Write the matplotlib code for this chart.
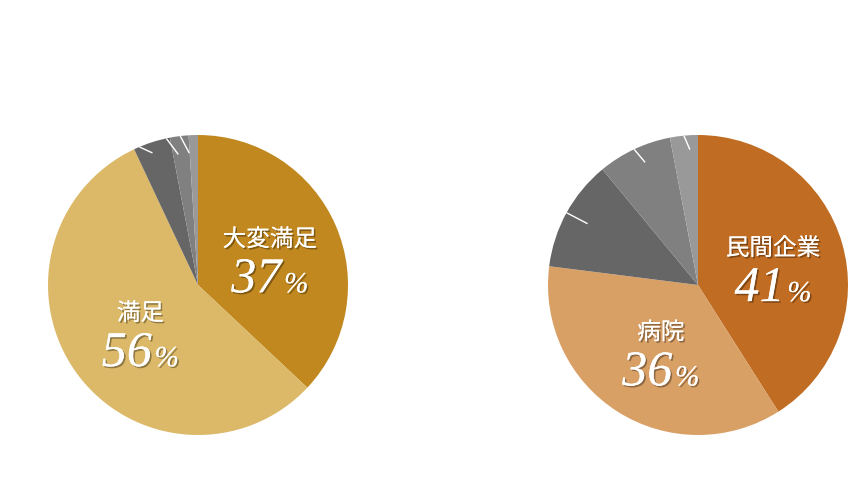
import numpy as np
import matplotlib
matplotlib.use('Agg')
import matplotlib.pyplot as plt
import matplotlib.patheffects as pe
from matplotlib.offsetbox import TextArea, HPacker, VPacker, AnnotationBbox

plt.rcParams['font.family'] = ['Noto Sans CJK JP', 'DejaVu Sans']

# left pie: satisfaction
satisfaction_labels = ['大変満足', '満足', '', '', '']
satisfaction_values = [37, 56, 4, 2, 1]
satisfaction_colors = ['#c1881f', '#dbb968', '#666666', '#808080', '#999999']

# right pie: employer
employer_labels = ['民間企業', '病院', '', '', '']
employer_values = [41, 36, 12, 8, 3]
employer_colors = ['#c06c22', '#d9a066', '#666666', '#808080', '#999999']

# leader line tails for the unlabeled slices (offset from rim point, in radius units)
left_leaders = [(0.087, -0.04), (0.08, -0.107), (0.06, -0.113)]
right_leaders = [(0.14, -0.073), (0.073, -0.087), (0.04, -0.093)]

shadow = [pe.withSimplePatchShadow(offset=(1.2, -1.2), shadow_rgbFace='black', alpha=0.35),
          pe.Normal()]


def draw_pie(ax, values, labels, colors, leaders, line_shift=0.0):
    ax.pie(values, colors=colors, startangle=90, counterclock=False, radius=1,
           wedgeprops=dict(linewidth=0))
    ax.set_xlim(-1, 1)
    ax.set_ylim(-1, 1)
    ax.set_aspect('equal')
    ax.axis('off')

    total = float(sum(values))
    cum = 0.0
    k = 0
    for v, lab in zip(values, labels):
        mid = np.deg2rad(90 - 360 * (cum + v / 2) / total)
        cum += v
        if lab:
            name = TextArea(lab, textprops=dict(color='white', fontsize=17, path_effects=shadow))
            num = TextArea(str(v), textprops=dict(color='white', fontsize=36, family='Liberation Serif',
                                                  style='italic', path_effects=shadow))
            pct = TextArea('%', textprops=dict(color='white', fontsize=21, family='Liberation Serif',
                                               style='italic', path_effects=shadow))
            row = HPacker(children=[num, pct], align='baseline', pad=0, sep=2)
            box = VPacker(children=[name, row], align='center', pad=0, sep=4)
            ab = AnnotationBbox(box, (0.5 * np.cos(mid) + 0.02, 0.5 * np.sin(mid) - 0.07), frameon=False,
                                box_alignment=(0.5, 0.5), pad=0)
            ax.add_artist(ab)
        else:
            a = mid + np.deg2rad(line_shift)
            x0, y0 = np.cos(a), np.sin(a)
            dx, dy = leaders[k]
            k += 1
            ax.plot([x0, x0 + dx], [y0, y0 + dy], color='white', lw=1, solid_capstyle='butt')


fig = plt.figure(figsize=(8.48, 4.8), dpi=100)
ax_left = fig.add_axes([48 / 848, 45 / 480, 300 / 848, 300 / 480])
ax_right = fig.add_axes([548 / 848, 45 / 480, 300 / 848, 300 / 480])

draw_pie(ax_left, satisfaction_values, satisfaction_labels, satisfaction_colors, left_leaders, line_shift=5)
draw_pie(ax_right, employer_values, employer_labels, employer_colors, right_leaders)

fig.savefig('out.png', dpi=100, facecolor='white')
